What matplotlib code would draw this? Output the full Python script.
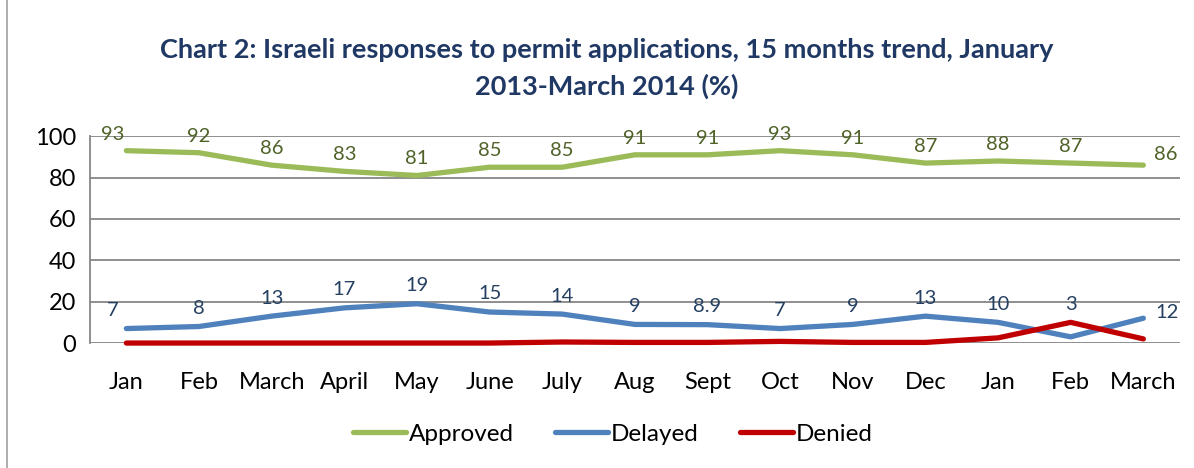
import numpy as np
import matplotlib
matplotlib.use("Agg")
import matplotlib.pyplot as plt
from matplotlib.patches import Rectangle

plt.rcParams['font.family'] = ['Lato', 'DejaVu Sans']

months = ["Jan", "Feb", "March", "April", "May", "June", "July", "Aug",
          "Sept", "Oct", "Nov", "Dec", "Jan", "Feb", "March"]
approved = [93, 92, 86, 83, 81, 85, 85, 91, 91, 93, 91, 87, 88, 87, 86]
delayed = [7, 8, 13, 17, 19, 15, 14, 9, 8.9, 7, 9, 13, 10, 3, 12]
denied = [0, 0, 0, 0, 0, 0, 0.5, 0.3, 0.3, 0.8, 0.3, 0.3, 2.5, 10, 2]
delayed_labels = ["7", "8", "13", "17", "19", "15", "14", "9", "8.9", "7",
                  "9", "13", "10", "3", "12"]

green = "#9BBB59"
blue = "#4F81BD"
red = "#C00000"

fig = plt.figure(figsize=(11.94, 4.68), dpi=100)
ax = fig.add_axes([0.0754, 0.267, 0.9126, 0.442])

x = np.arange(len(months))
ax.plot(x, approved, color=green, lw=3.8, solid_capstyle='round', label="Approved", zorder=3, clip_on=False)
ax.plot(x, delayed, color=blue, lw=3.8, solid_capstyle='round', label="Delayed", zorder=3, clip_on=False)
ax.plot(x, denied, color=red, lw=3.8, solid_capstyle='round', label="Denied", zorder=3, clip_on=False)

for i, v in enumerate(approved):
    dx, dy = 0, 12
    if i == 0:
        dx = -10
    if i == len(approved) - 1:
        dx, dy = 16, 8
    ax.annotate(str(v), (i, v), xytext=(dx, dy), textcoords='offset points',
                ha='center', va='center', fontsize=14.5, color="#4F6228")

for i, v in enumerate(delayed):
    dx, dy = 0, 13
    if i == 0:
        dx = -10
    if i == len(months) - 2:
        dy = 23
    if i == len(delayed) - 1:
        dx, dy = 17, 4
    ax.annotate(delayed_labels[i], (i, v), xytext=(dx, dy), textcoords='offset points',
                ha='center', va='center', fontsize=14.5, color="#254061")

ax.set_xlim(-0.5, len(months) - 0.5)
ax.set_ylim(0, 100)
ax.set_yticks(range(0, 101, 20))
ax.set_xticks(x)
ax.set_xticklabels(months)
ax.tick_params(axis='both', length=0, labelsize=17, colors='black')
ax.tick_params(axis='x', pad=21)
ax.tick_params(axis='y', pad=10)
ax.grid(axis='y', color='#868686', lw=1.3)
ax.set_axisbelow(True)
for s in ['top', 'right', 'bottom']:
    ax.spines[s].set_visible(False)
ax.spines['left'].set_color('#868686')
ax.spines['left'].set_linewidth(1.3)

fig.text(0.508, 0.853, "Chart 2: Israeli responses to permit applications, 15 months trend, January\n2013-March 2014 (%)",
         ha='center', va='center', fontsize=19.5, fontweight='bold', color="#1F3864",
         linespacing=1.55)

fig.legend(loc='center', bbox_to_anchor=(0.513, 0.072), ncol=3, frameon=False,
           fontsize=17.5, handlelength=2.2, handletextpad=0.1, columnspacing=1.7)

fig.add_artist(Rectangle((0.006, -0.01), 1.1, 1.1, transform=fig.transFigure,
                         fill=False, ec='#A0A0A0', lw=1.2))

fig.savefig("out.png", dpi=100)
